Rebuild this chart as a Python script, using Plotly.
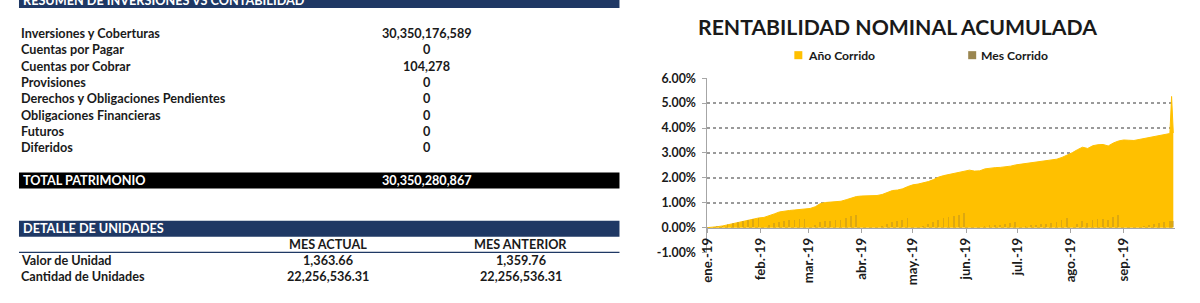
import plotly.graph_objects as go
import pandas as pd

# target picture size (all positions below are given in these pixels)
W, H = 1200, 303
# the photographed page area is slightly larger than the target and is scaled down to W x H;
# the figure div is sized to that area and pulled over the body's default 8px margins
DIV_W, DIV_H = W + 8, H + 16
FS = (DIV_W / W + DIV_H / H) / 2  # font compensation for the final downscale

# ---------------- data ----------------
resumen_title = "RESUMEN DE INVERSIONES VS CONTABILIDAD***"
resumen_labels = ["Inversiones y Coberturas", "Cuentas por Pagar", "Cuentas por Cobrar",
                  "Provisiones", "Derechos y Obligaciones Pendientes",
                  "Obligaciones Financieras", "Futuros", "Diferidos"]
resumen_values = ["30,350,176,589", "0", "104,278", "0", "0", "0", "0", "0"]
total_label = "TOTAL PATRIMONIO"
total_value = "30,350,280,867"
unidades_title = "DETALLE DE UNIDADES"
unidades_cols = ["MES ACTUAL", "MES ANTERIOR"]
unidades_rows = ["Valor de Unidad", "Cantidad de Unidades"]
unidades_actual = ["1,363.66", "22,256,536.31"]
unidades_anterior = ["1,359.76", "22,256,536.31"]

chart_title = "RENTABILIDAD NOMINAL ACUMULADA"
series_names = ["Año Corrido", "Mes Corrido"]

fechas = [d.strftime("%Y-%m-%d") for d in pd.date_range("2019-01-01", "2019-09-28", freq="3D")] \
    + ["2019-09-29", "2019-09-30"]

anio_corrido = [
    0.00, 0.01, 0.04, 0.07, 0.12, 0.17, 0.21, 0.26, 0.30, 0.35, 0.39,
    0.41, 0.47, 0.55, 0.63, 0.67, 0.69, 0.71, 0.72, 0.74,
    0.77, 0.84, 0.97, 1.01, 1.03, 1.04, 1.06, 1.12, 1.20, 1.25,
    1.27, 1.27, 1.28, 1.29, 1.33, 1.42, 1.49, 1.51, 1.56, 1.65,
    1.72, 1.75, 1.79, 1.85, 1.93, 2.03, 2.09, 2.14, 2.19, 2.24, 2.29,
    2.31, 2.27, 2.28, 2.36, 2.40, 2.41, 2.42, 2.43, 2.47, 2.52,
    2.55, 2.58, 2.61, 2.64, 2.66, 2.68, 2.71, 2.75, 2.82, 2.90,
    3.01, 3.13, 3.23, 3.18, 3.29, 3.33, 3.34, 3.28, 3.40, 3.48,
    3.52, 3.51, 3.50, 3.54, 3.58, 3.61, 3.65, 3.71, 3.76, 3.78,
    5.27, 3.80,
]
mes_corrido = [
    0.00, 0.01, 0.04, 0.07, 0.12, 0.17, 0.21, 0.26, 0.30, 0.35, 0.39,
    0.02, 0.08, 0.16, 0.23, 0.27, 0.29, 0.31, 0.32, 0.34,
    0.02, 0.09, 0.21, 0.25, 0.27, 0.28, 0.30, 0.36, 0.44, 0.49,
    0.01, 0.01, 0.02, 0.03, 0.07, 0.15, 0.22, 0.24, 0.29, 0.38,
    0.00, 0.03, 0.07, 0.13, 0.21, 0.31, 0.36, 0.41, 0.46, 0.51, 0.56,
    0.02, 0.00, 0.00, 0.05, 0.09, 0.10, 0.11, 0.12, 0.16, 0.21,
    0.03, 0.05, 0.08, 0.11, 0.13, 0.15, 0.18, 0.22, 0.29, 0.37,
    0.03, 0.14, 0.24, 0.19, 0.30, 0.34, 0.35, 0.29, 0.41, 0.48,
    0.00, 0.00, 0.00, 0.02, 0.06, 0.09, 0.13, 0.18, 0.23, 0.25,
    0.26, 0.27,
]
assert len(fechas) == len(anio_corrido) == len(mes_corrido)

mes_ticks = ["2019-01-01", "2019-02-01", "2019-03-01", "2019-04-01", "2019-05-01",
             "2019-06-01", "2019-07-01", "2019-08-01", "2019-09-01"]
mes_labels = ["ene.-19", "feb.-19", "mar.-19", "abr.-19", "may.-19",
              "jun.-19", "jul.-19", "ago.-19", "sep.-19"]
y_ticks = [-1, 0, 1, 2, 3, 4, 5, 6]
y_labels = ["-1.00%", "0.00%", "1.00%", "2.00%", "3.00%", "4.00%", "5.00%", "6.00%"]

# ---------------- styling ----------------
NAVY = "#1F3864"
GOLD = "#FFC000"
MES_COLOR = "rgba(150,118,50,0.32)"
FONT = "Lato"
TXT = "#1a1a1a"
TS = 12.3  # table font size


def px(x):
    return x / W


def py(y):
    return 1 - y / H


# chart geometry (target pixels)
CX0, CX1 = 707, 1175
CY_TOP, CY_BOT = 78, 251.7
ydom = [py(CY_BOT), py(CY_TOP)]
xdom = [px(CX0), px(CX1)]
zero_pos = ydom[0] + (ydom[1] - ydom[0]) * (0 - y_ticks[0]) / (y_ticks[-1] - y_ticks[0])

fig = go.Figure()
fig.add_trace(go.Scatter(
    x=fechas, y=anio_corrido, name=series_names[0], mode="lines",
    fill="tozeroy", fillcolor=GOLD, line=dict(color=GOLD, width=1),
    showlegend=False, xaxis="x", yaxis="y",
))
fig.add_trace(go.Bar(
    x=fechas, y=mes_corrido, name=series_names[1],
    marker=dict(color=MES_COLOR, line=dict(width=0)),
    width=86400000 * 1.0, showlegend=False, xaxis="x2", yaxis="y2",
))

shapes = []
annotations = []


def rect(x0, y0, x1, y1, color):
    shapes.append(dict(type="rect", xref="paper", yref="paper",
                       x0=px(x0), x1=px(x1), y0=py(y1), y1=py(y0),
                       fillcolor=color, line=dict(width=0), layer="above"))


def text(x, y, s, anchor="left", size=TS, color=TXT, bold=True):
    annotations.append(dict(xref="paper", yref="paper", x=px(x), y=py(y), text=s,
                            showarrow=False, xanchor=anchor, yanchor="middle",
                            font=dict(family=FONT, size=size * FS, color=color,
                                      weight="bold" if bold else "normal")))


# ---- left table ----
TX0, TX1 = 18, 619
rect(TX0, -2, TX1, 8, NAVY)
text(20, 0.5, resumen_title, color="white")
row_y = [33, 49.5, 66, 82, 98.5, 115, 131, 147.5]
for lab, val, yy in zip(resumen_labels, resumen_values, row_y):
    text(18, yy, lab)
    text(426, yy, val, anchor="center")

rect(TX0, 172, TX1, 188, "#000000")
text(20, 180, total_label, color="white")
text(426, 180, total_value, anchor="center", color="white")

rect(TX0, 220, TX1, 236, NAVY)
text(20, 228, unidades_title, color="white")
text(327, 243.5, unidades_cols[0], anchor="center")
text(520, 243.5, unidades_cols[1], anchor="center")
shapes.append(dict(type="line", xref="paper", yref="paper", x0=px(TX0), x1=px(TX1),
                   y0=py(251.5), y1=py(251.5), line=dict(color=NAVY, width=1.2)))
for lab, a, b, yy in zip(unidades_rows, unidades_actual, unidades_anterior, [259.5, 275.5]):
    text(18, yy, lab)
    text(327, yy, a, anchor="center")
    text(520, yy, b, anchor="center")

# ---- chart title & legend ----
text(897, 27, chart_title, anchor="center", size=20.6)
rect(794, 51, 802, 59, GOLD)
text(806, 55, series_names[0], size=11.8)
rect(968, 51, 976, 59, "#9A8650")
text(979, 55, series_names[1], size=11.8)

axis_font = dict(family=FONT, size=12 * FS, color=TXT, weight="bold")
xaxis_font = dict(family=FONT, size=12.8 * FS, color=TXT, weight="bold")
xr = ["2019-01-01", "2019-10-01"]

fig.update_layout(
    margin=dict(l=0, r=0, t=0, b=0),
    paper_bgcolor="white", plot_bgcolor="rgba(0,0,0,0)",
    showlegend=False, bargap=0,
    shapes=shapes, annotations=annotations,
    xaxis=dict(type="date", range=xr, domain=xdom, anchor="free", position=zero_pos,
               showgrid=False, zeroline=False, showline=True, linecolor="#A6A6A6", linewidth=1,
               ticks="outside", ticklen=4, tickcolor="#A6A6A6",
               tickmode="array", tickvals=mes_ticks, ticktext=mes_labels,
               tickangle=-90, tickfont=xaxis_font),
    yaxis=dict(range=[y_ticks[0], y_ticks[-1]], domain=ydom, anchor="x",
               tickmode="array", tickvals=y_ticks, ticktext=y_labels,
               showgrid=True, gridcolor="#9A9A9A", griddash="dot", gridwidth=1.5,
               zeroline=False, showline=True, linecolor="#A6A6A6", linewidth=1,
               ticks="outside", ticklen=4, tickcolor="#A6A6A6",
               ticklabelstandoff=4, tickfont=axis_font),
    xaxis2=dict(type="date", range=xr, domain=xdom, overlaying="x", anchor="y2", visible=False),
    yaxis2=dict(range=[y_ticks[0], y_ticks[-1]], domain=ydom, overlaying="y", anchor="x2",
                visible=False),
)

# cancel the page body's default 8px margin on the figure's div
fig.write_html("out.html", config={"displayModeBar": False, "responsive": False},
               default_width=f"{DIV_W}px;margin:-8px", default_height=f"{DIV_H}px")
